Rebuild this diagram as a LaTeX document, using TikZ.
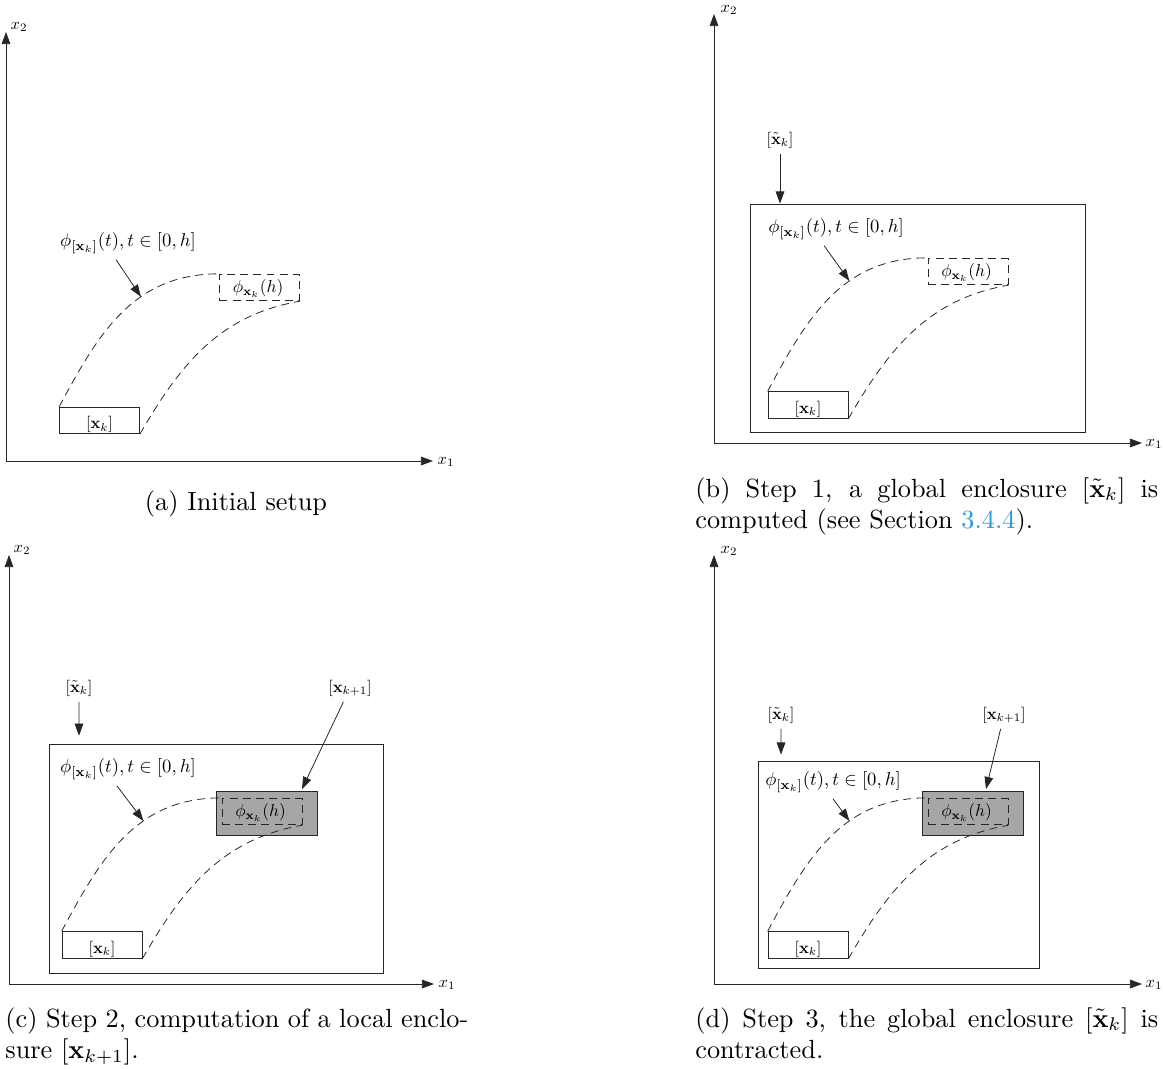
\documentclass[tikz,border=0pt]{standalone}
\usepackage{amsmath,amssymb}
\usepackage{xcolor}
\usetikzlibrary{arrows.meta,positioning}
\definecolor{linkblue}{RGB}{35,155,210}

\begin{document}
\begin{tikzpicture}[x=0.3802pt, y=-0.3802pt, >={Triangle[length=4.6pt,width=3.3pt]},
  color=black!85, line width=0.3pt,
  every node/.style={text=black, font=\normalsize},
  axis/.style={<->},
  lbl/.style={scale=0.62},
  flowlbl/.style={scale=0.71},
  axlabel/.style={lbl, inner sep=0pt},
  setbox/.style={draw, minimum width=30.4pt, minimum height=10.1pt, inner sep=0pt,
    label={[lbl, anchor=south, inner sep=0.8pt]south:{$[\mathbf{x}_k]$}}},
  flowbox/.style={draw, dash pattern=on 3pt off 2pt, minimum width=30.4pt, minimum height=10.1pt, inner sep=0pt,
    label={[scale=0.66, anchor=center, xshift=-0.8pt, yshift=-0.5pt]center:{$\phi_{\mathbf{x}_k}(h)$}}},
  globbox/.style={draw, inner sep=0pt},
  locbox/.style={draw, fill=black!35, minimum width=38.4pt, minimum height=16.7pt, inner sep=0pt},
  tube/.style={dash pattern=on 3pt off 2pt},
  caption/.style={text width=176pt, align=justify, inner sep=0pt}]
\useasboundingbox (0,0) rectangle (1163,1068);

% (a) initial setup
\coordinate (a-top) at (6,32);
\coordinate (a-right) at (433,461);
\draw[axis] (a-top) |- (a-right);
\node[axlabel] (a-x2) at (19,27) {$x_2$};
\node[axlabel] (a-x1) at (446,462) {$x_1$};
\node[setbox] (a-xk) at (99.5,420.5) {};
\node[flowbox] (a-phi) at (259.5,287.5) {};
\draw[tube] (a-xk.north west) .. controls +(40,-75) and +(-85,0) .. (a-phi.north west) coordinate[pos=0.62] (a-tube);
\draw[tube] (a-xk.south east) .. controls +(41,-71) and +(-80,14) .. (a-phi.south east);
\node[flowlbl] (a-flow) at (128,243) {$\phi_{[\mathbf{x}_k]}(t), t \in [0,h]$};
\draw[->] ([xshift=-4.5pt]a-flow.south) -- (a-tube);
\node[anchor=base] (a-cap) at (236,510) {(a) Initial setup};

% (b) step 1
\coordinate (b-top) at (714,14);
\coordinate (b-right) at (1142,443);
\draw[axis] (b-top) |- (b-right);
\node[axlabel] (b-x2) at (729,10) {$x_2$};
\node[axlabel] (b-x1) at (1154,444) {$x_1$};
\node[globbox, minimum width=127.4pt, minimum height=86.7pt] (b-glob) at (917.5,318) {};
\node[lbl] (b-gl) at (780,140) {$[\tilde{\mathbf{x}}_k]$};
\draw[->] (b-gl) -- (b-gl |- b-glob.north);
\node[setbox] (b-xk) at (808,405) {};
\node[flowbox] (b-phi) at (968,271.5) {};
\draw[tube] (b-xk.north west) .. controls +(40,-75) and +(-85,0) .. (b-phi.north west) coordinate[pos=0.62] (b-tube);
\draw[tube] (b-xk.south east) .. controls +(41,-71) and +(-80,14) .. (b-phi.south east);
\node[flowlbl] (b-flow) at (836,229) {$\phi_{[\mathbf{x}_k]}(t), t \in [0,h]$};
\draw[->] ([xshift=-4.5pt]b-flow.south) -- (b-tube);
\node[caption, anchor=base west] (b-cap) at (695,497) {(b) Step 1, a global enclosure $[\tilde{\mathbf{x}}_k]$ is\linebreak computed (see Section \textcolor{linkblue}{3.4.4}).};

% (c) step 2
\coordinate (c-top) at (9,555);
\coordinate (c-right) at (434,984);
\draw[axis] (c-top) |- (c-right);
\node[axlabel] (c-x2) at (22,550) {$x_2$};
\node[axlabel] (c-x1) at (447,985) {$x_1$};
\node[globbox, minimum width=127pt, minimum height=87.1pt] (c-glob) at (216,858.5) {};
\node[lbl] (c-gl) at (79,688) {$[\tilde{\mathbf{x}}_k]$};
\draw[->, shorten >=3pt] (c-gl) -- (c-gl |- c-glob.north);
\node[locbox] (c-loc) at (267,813) {};
\node[lbl] (c-next) at (350,688) {$[\mathbf{x}_{k+1}]$};
\coordinate (c-tip) at (302,789);
\draw[->] (c-next) -- (c-tip);
\node[setbox] (c-xk) at (102,945) {};
\node[flowbox] (c-phi) at (262,811.5) {};
\draw[tube] (c-xk.north west) .. controls +(40,-75) and +(-85,0) .. (c-phi.north west) coordinate[pos=0.62] (c-tube);
\draw[tube] (c-xk.south east) .. controls +(41,-71) and +(-80,14) .. (c-phi.south east);
\node[flowlbl] (c-flow) at (128,769) {$\phi_{[\mathbf{x}_k]}(t), t \in [0,h]$};
\draw[->] ([xshift=-4.2pt]c-flow.south) -- (c-tube);
\node[caption, anchor=base west] (c-cap) at (5,1027) {(c) Step 2, computation of a local enclo-\linebreak sure $[\mathbf{x}_{k+1}]$.};

% (d) step 3
\coordinate (d-top) at (714,555);
\coordinate (d-right) at (1142,984);
\draw[axis] (d-top) |- (d-right);
\node[axlabel] (d-x2) at (729,551) {$x_2$};
\node[axlabel] (d-x1) at (1154,985) {$x_1$};
\node[globbox, minimum width=106.8pt, minimum height=78.7pt] (d-glob) at (898.5,864.5) {};
\node[lbl] (d-gl) at (781,715) {$[\tilde{\mathbf{x}}_k]$};
\draw[->, shorten >=2.3pt] (d-gl) -- (d-gl |- d-glob.north);
\node[locbox] (d-loc) at (972.5,813) {};
\node[lbl] (d-next) at (1004,715) {$[\mathbf{x}_{k+1}]$};
\coordinate (d-tip) at (986,789);
\draw[->] (d-next) -- (d-tip);
\node[setbox] (d-xk) at (808,945) {};
\node[flowbox] (d-phi) at (968,811.5) {};
\draw[tube] (d-xk.north west) .. controls +(40,-75) and +(-85,0) .. (d-phi.north west) coordinate[pos=0.62] (d-tube);
\draw[tube] (d-xk.south east) .. controls +(41,-71) and +(-80,14) .. (d-phi.south east);
\node[flowlbl] (d-flow) at (833,782) {$\phi_{[\mathbf{x}_k]}(t), t \in [0,h]$};
\draw[->] (d-flow.south) -- (d-tube);
\node[caption, anchor=base west] (d-cap) at (695,1027) {(d) Step 3, the global enclosure $[\tilde{\mathbf{x}}_k]$ is\linebreak contracted.};

\end{tikzpicture}
\end{document}
